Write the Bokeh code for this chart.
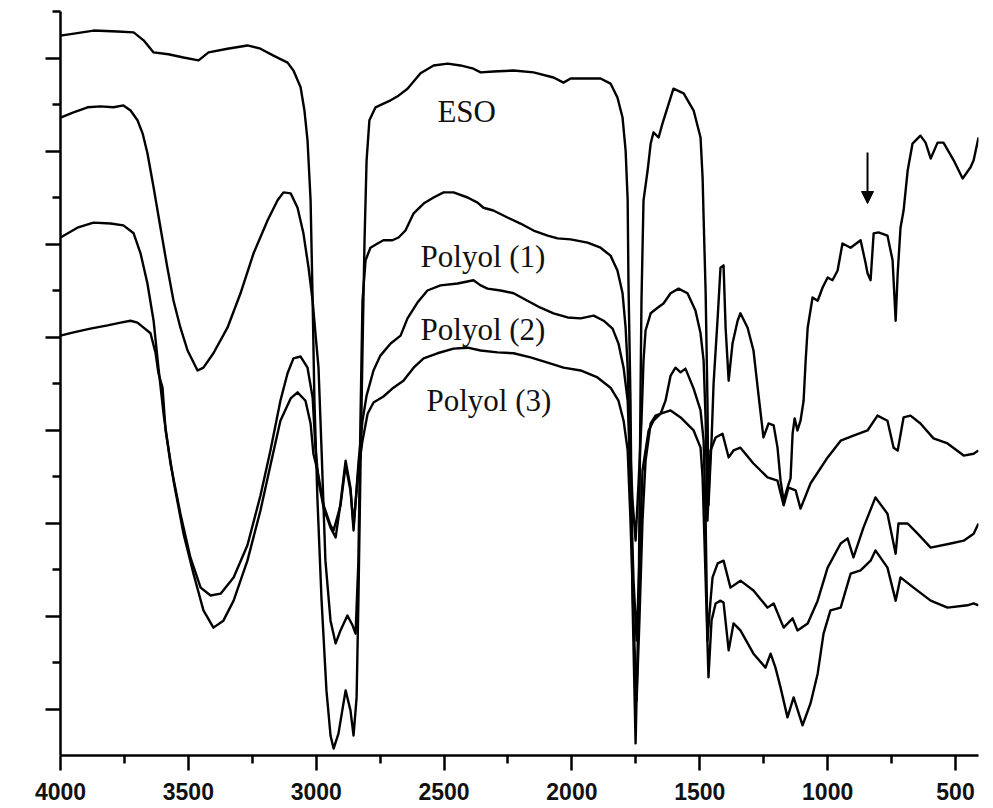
from bokeh.plotting import figure
from bokeh.models import Range1d, FixedTicker, CustomJSTickFormatter, Label, Arrow, NormalHead
from bokeh.embed import file_html
from bokeh.resources import INLINE

# ---------------- data (wavenumber cm-1, transmittance in arbitrary units) ----------------
wn_eso = [4000,3941,3871,3777,3714,3675,3636,3578,3519,3460,
          3421,3347,3269,3218,3167,3112,3089,3061,3046,3034,
          3022,3014,3007,2995,2979,2960,2944,2932,2913,2885,
          2866,2854,2842,2835,2827,2819,2811,2803,2792,2768,
          2737,2709,2678,2643,2592,2541,2486,2436,2385,2357,
          2307,2228,2150,2072,2033,2005,1888,1849,1822,1802,
          1790,1782,1779,1771,1763,1751,1739,1732,1728,1720,
          1704,1692,1681,1661,1646,1626,1603,1563,1524,1497,
          1489,1485,1477,1470,1466,1454,1446,1430,1419,1407,
          1399,1387,1372,1352,1341,1313,1290,1270,1251,1231,
          1211,1196,1184,1172,1157,1145,1137,1129,1118,1106,
          1094,1086,1078,1059,1039,1020,1000,981,961,942,
          910,871,852,844,832,820,801,766,746,734,
          726,715,703,687,668,637,617,597,570,547,
          507,472,441,429,410]
t_eso = [15.48,15.53,15.59,15.57,15.55,15.38,15.12,15.08,15.01,14.95,
         15.12,15.20,15.27,15.20,15.05,14.90,14.73,14.37,13.87,13.23,
         11.94,9.78,7.63,5.48,3.33,1.40,0.43,0.15,0.47,1.40,
         0.97,0.43,1.25,3.33,6.13,8.71,11.08,12.80,13.66,13.94,
         14.02,14.09,14.19,14.34,14.67,14.84,14.88,14.84,14.77,14.69,
         14.71,14.73,14.69,14.58,14.47,14.56,14.56,14.45,14.15,13.72,
         13.01,11.94,10.22,7.63,3.33,0.26,3.33,7.63,9.78,11.94,
         12.58,13.16,13.40,13.29,13.59,13.94,14.34,14.24,13.87,13.29,
         12.43,11.57,9.94,7.63,5.38,6.77,8.00,9.42,10.49,10.54,
         9.20,8.06,8.86,9.35,9.51,9.20,8.71,7.74,6.84,7.14,
         7.10,6.62,5.91,5.48,5.76,5.96,6.92,7.25,6.99,7.20,
         7.63,8.49,9.20,9.85,9.78,10.06,10.28,10.22,10.43,11.01,
         10.92,11.08,10.60,10.37,10.22,11.23,11.25,11.18,10.65,9.35,
         10.37,11.35,11.72,12.58,13.16,13.33,13.18,12.84,13.18,13.18,
         12.80,12.41,12.65,12.80,13.29]

wn_p1 = [4000,3949,3894,3844,3793,3754,3726,3699,3679,3660,
         3636,3609,3582,3558,3531,3503,3464,3441,3402,3347,
         3296,3245,3190,3151,3128,3100,3073,3050,3030,3014,
         3003,2991,2979,2964,2944,2924,2905,2878,2858,2846,
         2835,2827,2819,2807,2788,2760,2737,2702,2678,2651,
         2619,2580,2541,2502,2463,2408,2369,2346,2307,2252,
         2201,2150,2095,2056,2005,1939,1888,1849,1822,1802,
         1790,1782,1775,1763,1751,1739,1728,1720,1712,1692,
         1665,1642,1614,1583,1548,1517,1497,1485,1477,1470,
         1458,1438,1411,1387,1368,1341,1290,1235,1196,1172,
         1153,1125,1106,1067,1000,949,899,844,805,766,
         742,726,703,676,637,586,531,468,429,410]
t_p1 = [13.72,13.83,13.94,13.96,13.94,13.98,13.87,13.66,13.38,12.95,
        12.22,11.35,10.49,9.78,9.20,8.71,8.28,8.34,8.65,9.20,
        9.94,10.80,11.51,11.94,12.11,12.09,11.78,11.23,10.49,9.78,
        9.08,8.34,6.56,4.19,2.90,2.41,2.69,3.01,2.80,2.62,
        4.19,7.20,9.78,10.65,10.92,11.01,11.08,11.08,11.14,11.29,
        11.66,11.87,12.00,12.11,12.11,12.00,11.89,11.78,11.72,11.57,
        11.44,11.29,11.18,11.12,11.10,11.03,10.92,10.75,10.43,9.94,
        9.20,8.34,6.99,5.48,4.62,5.91,7.20,8.49,9.14,9.51,
        9.63,9.72,9.94,10.04,9.94,9.57,9.08,8.49,7.20,5.05,
        6.56,6.84,6.92,6.41,6.56,6.62,6.28,5.98,5.91,5.38,
        5.76,5.70,5.31,5.85,6.41,6.77,6.88,6.99,7.31,7.20,
        6.62,6.56,7.27,7.31,7.14,6.82,6.71,6.45,6.49,6.56]

wn_p2 = [4000,3934,3871,3804,3754,3714,3687,3660,3636,3617,
         3597,3570,3531,3492,3452,3413,3374,3323,3269,3218,
         3179,3140,3112,3089,3061,3034,3014,3003,2991,2971,
         2944,2924,2905,2885,2866,2854,2835,2819,2803,2776,
         2749,2709,2670,2643,2604,2565,2514,2447,2385,2357,
         2330,2279,2228,2174,2123,2072,2017,1966,1915,1876,
         1841,1818,1798,1782,1771,1759,1747,1736,1724,1700,
         1681,1653,1634,1614,1595,1575,1556,1524,1497,1485,
         1477,1470,1458,1450,1430,1407,1380,1341,1290,1235,
         1211,1172,1137,1118,1078,1039,1000,949,922,899,
         860,813,766,734,723,687,648,597,519,468,
         429,410]
t_p2 = [11.14,11.35,11.46,11.44,11.40,11.23,10.80,10.15,9.35,8.34,
        7.35,6.28,5.20,4.26,3.61,3.44,3.48,3.83,4.52,5.59,
        6.56,7.63,8.22,8.54,8.58,8.34,7.70,6.62,5.91,5.33,
        4.90,4.69,5.42,6.34,5.76,4.84,6.28,7.20,7.74,8.28,
        8.60,8.86,9.03,9.40,9.74,10.00,10.11,10.15,10.22,10.11,
        10.04,10.00,9.94,9.78,9.63,9.51,9.42,9.40,9.46,9.35,
        9.18,8.86,8.34,7.63,5.91,3.76,2.47,4.19,6.13,6.99,
        7.20,7.35,7.63,8.17,8.34,8.24,8.32,7.89,7.42,6.77,
        5.05,2.47,3.33,3.83,4.13,4.19,3.61,3.76,3.55,3.18,
        3.27,2.75,2.95,2.69,2.84,3.33,4.04,4.56,4.67,4.26,
        4.90,5.55,5.20,4.34,4.99,4.99,4.77,4.47,4.56,4.62,
        4.77,4.99]

wn_p3 = [4000,3949,3883,3816,3765,3726,3699,3675,3648,3628,
         3617,3601,3589,3558,3519,3480,3441,3402,3363,3323,
         3269,3218,3179,3140,3100,3073,3042,3022,3011,2995,
         2971,2944,2932,2905,2885,2866,2854,2835,2819,2799,
         2776,2737,2698,2659,2619,2580,2526,2463,2408,2357,
         2291,2228,2162,2095,2033,1966,1900,1849,1818,1798,
         1782,1771,1759,1747,1736,1724,1712,1692,1673,1653,
         1614,1575,1524,1497,1489,1477,1466,1454,1438,1419,
         1407,1387,1368,1341,1290,1243,1223,1204,1184,1157,
         1133,1098,1067,1039,1016,989,949,910,871,832,
         813,766,734,715,664,597,531,453,429,410]
t_p3 = [9.03,9.10,9.18,9.25,9.31,9.35,9.31,9.20,9.08,8.65,
        8.22,7.91,6.99,5.91,4.77,3.91,3.12,2.75,2.90,3.33,
        4.19,5.27,6.24,7.20,7.68,7.81,7.63,7.14,6.49,6.13,
        5.38,4.95,4.84,5.38,6.24,5.70,4.95,6.13,6.77,7.35,
        7.59,7.72,7.91,8.06,8.34,8.54,8.65,8.75,8.77,8.71,
        8.67,8.65,8.56,8.45,8.34,8.28,8.13,7.91,7.63,7.20,
        6.56,5.05,2.90,1.18,2.90,5.05,6.34,7.14,7.31,7.35,
        7.42,7.27,6.99,6.62,5.98,3.76,1.68,2.90,3.27,3.33,
        3.29,2.26,2.84,2.69,2.19,1.89,2.19,1.89,1.46,0.82,
        1.25,0.65,1.12,1.76,2.62,3.12,3.18,3.91,3.98,4.19,
        4.41,4.04,3.33,3.83,3.61,3.33,3.18,3.23,3.27,3.23]

series_names = ["ESO", "Polyol (1)", "Polyol (2)", "Polyol (3)"]
x_major = [4000, 3500, 3000, 2500, 2000, 1500, 1000, 500]
x_minor = [3750, 3250, 2750, 2250, 1750, 1250, 750]
x_tick_labels = ["4000", "3500", "3000", "2500", "2000", "1500", "1000", "500"]
y_major = [1, 3, 5, 7, 9, 11, 13, 15]
y_minor = [2, 4, 6, 8, 10, 12, 14, 16]

# label anchor points (wavenumber, transmittance) and epoxy-band arrow
label_pos = [(2526, 13.85), (2592, 10.73), (2592, 9.16), (2569, 7.63)]
arrow_wn = 844
arrow_y = (12.97, 11.87)

# ---------------- figure ----------------
p = figure(width=983, height=808, output_backend="svg", toolbar_location=None,
           x_range=Range1d(4000, 410), y_range=Range1d(0, 16),
           min_border_left=60, min_border_right=5, min_border_top=11, min_border_bottom=53)
p.outline_line_color = None
p.grid.visible = False
p.background_fill_color = "white"
p.border_fill_color = "white"

for xs, ys in [(wn_eso, t_eso), (wn_p1, t_p1), (wn_p2, t_p2), (wn_p3, t_p3)]:
    p.line(xs, ys, line_color="black", line_width=2.4, line_join="round")

# x axis
xa = p.xaxis[0]
xa.ticker = FixedTicker(ticks=x_major, minor_ticks=x_minor)
xa.major_label_overrides = {v: s for v, s in zip(x_major, x_tick_labels)}
xa.axis_line_width = 2.5
xa.axis_line_color = "black"
xa.major_tick_line_width = 2.5
xa.minor_tick_line_width = 2.5
xa.major_tick_out = 15
xa.major_tick_in = 0
xa.minor_tick_out = 8
xa.minor_tick_in = 0
xa.major_label_standoff = 12
xa.major_label_text_font = "Liberation Sans"
xa.major_label_text_font_style = "bold"
xa.major_label_text_font_size = "23px"
xa.major_label_text_color = "#111111"

# y axis (no labels)
ya = p.yaxis[0]
ya.ticker = FixedTicker(ticks=y_major, minor_ticks=y_minor)
ya.formatter = CustomJSTickFormatter(code="return ''")
ya.axis_line_width = 2.5
ya.axis_line_color = "black"
ya.major_tick_line_width = 2.5
ya.minor_tick_line_width = 2.5
ya.major_tick_out = 15
ya.major_tick_in = 0
ya.minor_tick_out = 8
ya.minor_tick_in = 0
ya.major_label_text_font_size = "1px"

for (lx, ly), name in zip(label_pos, series_names):
    p.add_layout(Label(x=lx, y=ly, text=name, text_font="Liberation Serif",
                       text_font_size="31px", text_color="#111111",
                       text_baseline="alphabetic", text_align="left"))

p.add_layout(Arrow(end=NormalHead(size=12, fill_color="black", line_color="black"),
                   x_start=arrow_wn, y_start=arrow_y[0], x_end=arrow_wn, y_end=arrow_y[1],
                   line_width=2, line_color="black"))

open("out.html", "w").write(file_html(p, INLINE))
